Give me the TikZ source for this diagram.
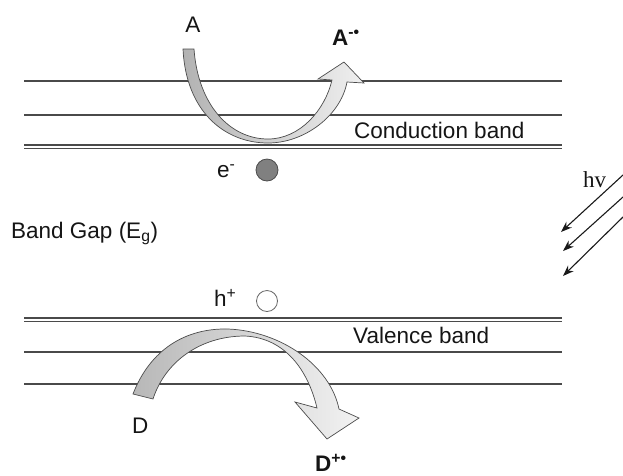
\documentclass[tikz,border=0pt]{standalone}
\usepackage{fontspec}
\setmainfont{Liberation Sans}
\newfontfamily\tnr{Liberation Serif}
\usetikzlibrary{arrows.meta}
\definecolor{bandline}{HTML}{4A4A4A}
\definecolor{ink}{HTML}{151515}
\begin{document}
\begin{tikzpicture}[x=1pt,y=-1pt,
  lbl/.style={font=\fontsize{22.5}{26}\selectfont, inner sep=0pt, text=ink},
  bandln/.style={draw=bandline, line width=1.3pt},
  bigarrow/.style={draw=black!70, line width=0.7pt},
  ray/.style={draw=black!90, line width=1.1pt, -{Stealth[length=11pt,width=8pt]}}]
\useasboundingbox (0,0) rectangle (623,475);
\def\xl{24}\def\xr{562}
% conduction band lines
\draw[bandln] (\xl,81) -- (\xr,81);
\draw[bandln] (\xl,115) -- (\xr,115);
\draw[bandln] (\xl,145) -- (\xr,145);
\draw[bandln] (\xl,148.5) -- (\xr,148.5);
% valence band lines
\draw[bandln] (\xl,318) -- (\xr,318);
\draw[bandln] (\xl,321.5) -- (\xr,321.5);
\draw[bandln] (\xl,352) -- (\xr,352);
\draw[bandln] (\xl,384) -- (\xr,384);
% curved arrow A -> A
\shadedraw[bigarrow, left color=black!30, right color=black!6]
  (183,49) -- (194,49)
  .. controls (198,105) and (230,139) .. (268,139)
  .. controls (300,139) and (325,110) .. (332,80)
  -- (318,79) -- (344,62) -- (364,83) -- (347,82)
  .. controls (341,115) and (305,143) .. (268,143)
  .. controls (225,143) and (186,112) .. (183,49) -- cycle;
% curved arrow D -> D
\shadedraw[bigarrow, left color=black!28, right color=black!5]
  (133,394)
  .. controls (150,350) and (185,328) .. (228,329)
  .. controls (280,331) and (330,365) .. (339,409)
  -- (359,418) -- (327,439) -- (295,402) -- (317,408)
  .. controls (308,370) and (285,338) .. (245,336)
  .. controls (200,336) and (165,362) .. (153,399) -- cycle;
% labels
\node[lbl, anchor=base] (A) at (193,32) {A};
\node[lbl, anchor=base west] (Arad) at (332,45) {\textbf{A\textsuperscript{-•}}};
\node[lbl, anchor=base west] (cb) at (354,138) {Conduction band};
\node[lbl, anchor=base west] (em) at (217,177) {e\textsuperscript{-}};
\node[draw=black!70, fill=black!50, circle, minimum size=22pt, inner sep=0pt, line width=0.8pt] (elec) at (267,170) {};
\node[lbl, anchor=base west] (gap) at (11,238) {Band Gap (E\textsubscript{g})};
\node[lbl, anchor=base west] (hp) at (214,306) {h\textsuperscript{+}};
\node[draw=black!60, fill=white, circle, minimum size=21pt, inner sep=0pt, line width=0.8pt] (hole) at (267,301) {};
\node[lbl, anchor=base west] (vb) at (353,343) {Valence band};
\node[lbl, anchor=base west] (D) at (132,433) {D};
\node[lbl, anchor=base west] (Drad) at (315,471) {\textbf{D\textsuperscript{+•}}};
\node[inner sep=0pt, anchor=base west, font=\tnr\fontsize{23}{27}\selectfont, text=ink] (hv) at (583,187) {hv};
% light rays
\coordinate (r1s) at (623,175);
\coordinate (r1e) at (561,232);
\coordinate (r2s) at (623,197);
\coordinate (r2e) at (563,251);
\coordinate (r3s) at (623,217);
\coordinate (r3e) at (563,276);
\draw[ray] (r1s) -- (r1e);
\draw[ray] (r2s) -- (r2e);
\draw[ray] (r3s) -- (r3e);
\end{tikzpicture}
\end{document}
